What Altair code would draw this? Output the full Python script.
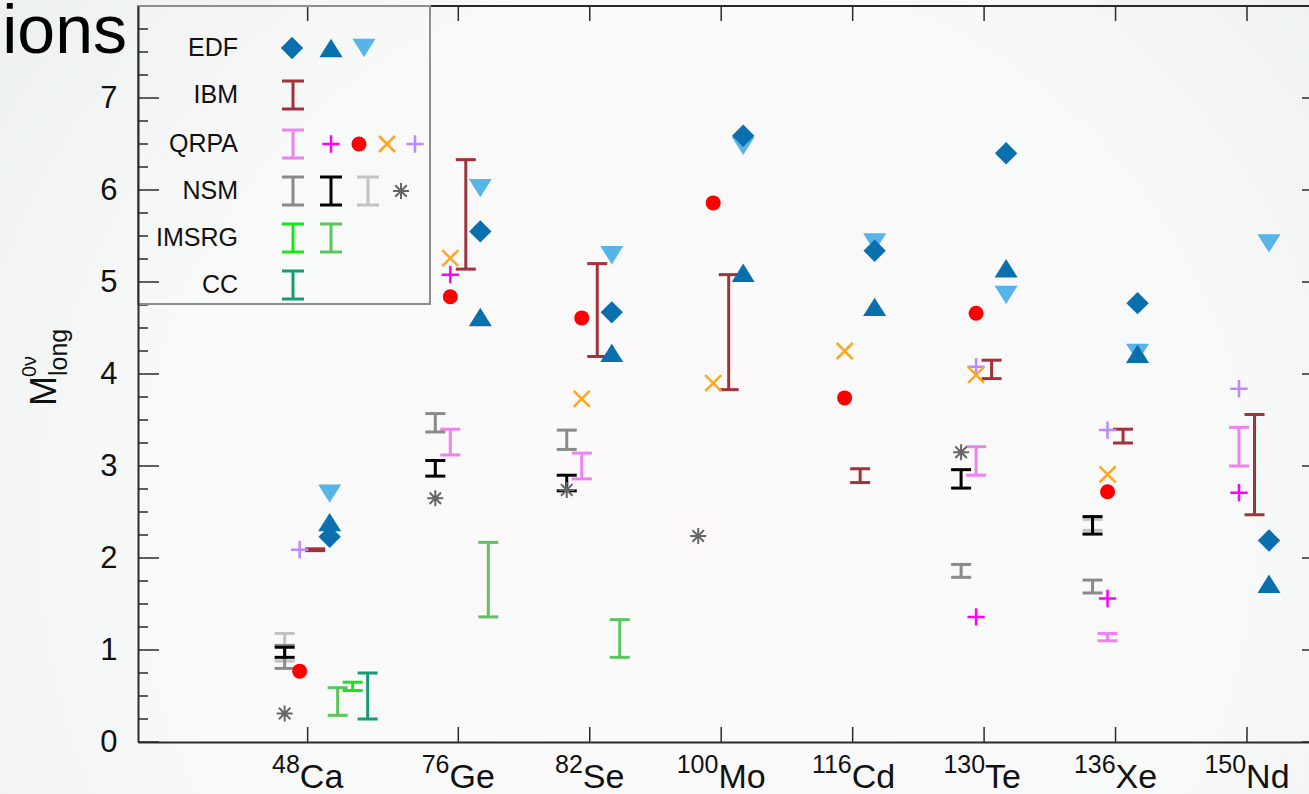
import altair as alt
import pandas as pd

# ---------------------------------------------------------------- data
MASS = ["48", "76", "82", "100", "116", "130", "136", "150"]
ELEMENT = ["Ca", "Ge", "Se", "Mo", "Cd", "Te", "Xe", "Nd"]

N = None
# EDF
EDF_DIAMOND = [2.23, 5.55, 4.67, 6.59, 5.34, 6.40, 4.77, 2.19]
EDF_TRI_UP = [2.39, 4.62, 4.23, 5.10, 4.73, 5.15, 4.22, 1.72]
EDF_TRI_DOWN = [2.70, 6.02, 5.29, 6.48, 5.43, 4.86, 4.23, 5.42]
# IBM (ranges)
IBM_LO = [2.08, 5.14, 4.19, 3.83, 2.82, 3.95, 3.25, 2.47]
IBM_HI = [2.10, 6.33, 5.20, 5.08, 2.97, 4.15, 3.40, 3.56]
# QRPA
QRPA_BAR_LO = [N, 3.12, 2.86, N, N, 2.90, 1.10, 3.00]
QRPA_BAR_HI = [N, 3.40, 3.14, N, N, 3.21, 1.18, 3.42]
QRPA_PLUS_MAGENTA = [N, 5.08, N, N, N, 1.36, 1.56, 2.71]
QRPA_DOT_RED = [0.77, 4.84, 4.61, 5.86, 3.74, 4.66, 2.72, N]
QRPA_CROSS_ORANGE = [N, 5.26, 3.73, 3.90, 4.25, 3.99, 2.91, N]
QRPA_PLUS_PURPLE = [2.09, N, N, N, N, 4.08, 3.39, 3.84]
# NSM
NSM_GRAY_LO = [0.80, 3.37, 3.18, N, N, 1.79, 1.62, N]
NSM_GRAY_HI = [1.05, 3.57, 3.39, N, N, 1.93, 1.76, N]
NSM_BLACK_LO = [0.92, 2.89, 2.73, N, N, 2.76, 2.26, N]
NSM_BLACK_HI = [1.03, 3.06, 2.90, N, N, 2.96, 2.45, N]
NSM_LIGHT_LO = [0.88, N, N, N, N, N, 2.30, N]
NSM_LIGHT_HI = [1.18, N, N, N, N, N, 2.42, N]
NSM_STAR = [0.31, 2.65, 2.74, 2.24, N, 3.15, N, N]
# IMSRG
IMSRG_A_LO = [0.56, N, N, N, N, N, N, N]
IMSRG_A_HI = [0.65, N, N, N, N, N, N, N]
IMSRG_B_LO = [0.29, 1.36, 0.92, N, N, N, N, N]
IMSRG_B_HI = [0.59, 2.17, 1.33, N, N, N, N, N]
# CC
CC_LO = [0.25, N, N, N, N, N, N, N]
CC_HI = [0.75, N, N, N, N, N, N, N]

# ---------------------------------------------------------------- layout
W, H = 1171, 736
PAD = {"left": 138, "top": 6, "right": 0, "bottom": 52}
AXIS_POS = [0.854, 2, 3, 4, 5, 6, 7, 8]      # 48Ca sits a little closer to the axis
X_DOMAIN = [-0.4367, 8.4717]
Y_DOMAIN = [0, 8]
FONT = "Liberation Sans"
INK = "#2a2a2a"

DIAMOND = "M-1,0L0,-1L1,0L0,1Z"
TRI_UP = "M-1,0.8L0,-0.8L1,0.8Z"
TRI_DOWN = "M-1,-0.8L1,-0.8L0,0.8Z"
PLUS = "M-1,0L1,0M0,-1L0,1"
CROSS = "M-1,-1L1,1M-1,1L1,-1"
STAR = "M-1,0L1,0M0,-1L0,1M-0.72,-0.72L0.72,0.72M-0.72,0.72L0.72,-0.72"

C_EDF = "#0a70ad"
C_EDF_LIGHT = "#56b4e9"
C_IBM = "#a3313a"
C_VIOLET = "#ee82ee"
C_MAGENTA = "#ff00ff"
C_RED = "#ff0000"
C_ORANGE = "#ffa621"
C_PURPLE = "#bb88ff"
C_GRAY = "#8a8a8a"
C_BLACK = "#000000"
C_LIGHTGRAY = "#c2c2c2"
C_STAR = "#666666"
C_LIME = "#19e619"
C_GREEN = "#5cc45c"
C_CC = "#169b72"

# legend rows (pixel centres inside the plot)
ROW_Y = [42, 89, 138, 185, 232, 279]
ROW_LABEL = ["EDF", "IBM", "QRPA", "NSM", "IMSRG", "CC"]

# (values, colour, shape, size, filled, stroke width, dodge px, legend row, legend x)
POINTS = [
    (EDF_TRI_DOWN, C_EDF_LIGHT, TRI_DOWN, 530, True, 0, 22, 0, 226),
    (EDF_TRI_UP, C_EDF, TRI_UP, 530, True, 0, 22, 0, 193),
    (EDF_DIAMOND, C_EDF, DIAMOND, 500, True, 0, 22, 0, 154),
    (QRPA_PLUS_PURPLE, C_PURPLE, PLUS, 300, False, 2.5, -8, 2, 277),
    (QRPA_PLUS_MAGENTA, C_MAGENTA, PLUS, 300, False, 2.5, -8, 2, 193),
    (QRPA_DOT_RED, C_RED, "circle", 225, True, 0, -8, 2, 221),
    (QRPA_CROSS_ORANGE, C_ORANGE, CROSS, 256, False, 2.5, -8, 2, 249),
    (NSM_STAR, C_STAR, STAR, 256, False, 2, -23, 3, 263),
]

# (low, high, colour, dodge px, legend row, legend x)
BARS = [
    (IBM_LO, IBM_HI, C_IBM, 7.5, 1, 155),
    (QRPA_BAR_LO, QRPA_BAR_HI, C_VIOLET, -8, 2, 155),
    (NSM_LIGHT_LO, NSM_LIGHT_HI, C_LIGHTGRAY, -23, 3, 230),
    (NSM_GRAY_LO, NSM_GRAY_HI, C_GRAY, -23, 3, 155),
    (NSM_BLACK_LO, NSM_BLACK_HI, C_BLACK, -23, 3, 193),
    (IMSRG_B_LO, IMSRG_B_HI, C_GREEN, 30, 4, 193),
    (IMSRG_A_LO, IMSRG_A_HI, C_LIME, 45, 4, 155),
    (CC_LO, CC_HI, C_CC, 60, 5, 155),
]

# ---------------------------------------------------------------- encodings
XS = alt.Scale(domain=X_DOMAIN, nice=False, zero=False)
YS = alt.Scale(domain=Y_DOMAIN, nice=False, zero=False)
X_AXIS = alt.Axis(labels=False, ticks=False, tickSize=0, grid=False, title=None,
                  domainColor=INK, domainWidth=2, zindex=1)
Y_AXIS = alt.Axis(values=list(range(8)), ticks=False, tickSize=0, grid=False, title=None,
                  labelPadding=21, labelFontSize=31, labelFont=FONT, labelColor="#111111",
                  domainColor=INK, domainWidth=2, zindex=1)


def xe(field):
    return alt.X(field, type="quantitative", scale=XS, axis=X_AXIS)


def ye(field):
    return alt.Y(field, type="quantitative", scale=YS, axis=Y_AXIS)


def one():
    return pd.DataFrame({"k": [0]})


layers = []

# soft backdrop
backdrop = alt.RadialGradient(
    gradient="radial",
    stops=[alt.GradientStop(color="#fdf9f9", offset=0),
           alt.GradientStop(color="#f8f9f9", offset=0.55),
           alt.GradientStop(color="#eaeeee", offset=1)],
    x1=0.53, y1=0.6, r1=0, x2=0.53, y2=0.6, r2=0.75)
layers.append(alt.Chart(one()).mark_rect(fill=backdrop).encode(
    x=alt.value(-PAD["left"]), x2=alt.value(W), y=alt.value(-PAD["top"]),
    y2=alt.value(H + PAD["bottom"])))

# error bars
for lo, hi, color, dx, _, _ in BARS:
    df = pd.DataFrame({"pos": AXIS_POS, "lo": lo, "hi": hi}).dropna()
    base = alt.Chart(df)
    layers.append(base.mark_rule(color=color, strokeWidth=3, xOffset=dx).encode(
        x=xe("pos"), y=ye("lo"), y2="hi"))
    for end in ("lo", "hi"):
        layers.append(base.mark_rule(color=color, strokeWidth=3,
                                     xOffset=dx - 10, x2Offset=dx + 10).encode(
            x=xe("pos"), x2="pos", y=ye(end)))

# point markers
for vals, color, shape, size, filled, sw, dx, _, _ in POINTS:
    df = pd.DataFrame({"pos": AXIS_POS, "value": vals}).dropna()
    if filled:
        mk = alt.Chart(df).mark_point(shape=shape, size=size, filled=True, fill=color,
                                      opacity=1, strokeWidth=0, xOffset=dx)
    else:
        mk = alt.Chart(df).mark_point(shape=shape, size=size, filled=False, stroke=color,
                                      opacity=1, strokeWidth=sw, xOffset=dx)
    layers.append(mk.encode(x=xe("pos"), y=ye("value")))

# inward frame ticks
major = pd.DataFrame({"value": list(range(0, 9))})
minor = pd.DataFrame({"value": [k * 0.25 for k in range(33) if k % 4]})
nuc = pd.DataFrame({"pos": AXIS_POS})
layers.append(alt.Chart(major).mark_rule(color=INK, strokeWidth=1.5).encode(
    x=alt.value(0), x2=alt.value(21), y=ye("value")))
layers.append(alt.Chart(minor).mark_rule(color=INK, strokeWidth=1.5).encode(
    x=alt.value(0), x2=alt.value(10), y=ye("value")))
layers.append(alt.Chart(major).mark_rule(color=INK, strokeWidth=1.5).encode(
    x=alt.value(W - 7), x2=alt.value(W), y=ye("value")))
layers.append(alt.Chart(nuc).mark_rule(color=INK, strokeWidth=1.5).encode(
    x=xe("pos"), y=alt.value(H - 15), y2=alt.value(H)))
layers.append(alt.Chart(nuc).mark_rule(color=INK, strokeWidth=1.5).encode(
    x=xe("pos"), y=alt.value(0), y2=alt.value(15)))
layers.append(alt.Chart(one()).mark_rule(color=INK, strokeWidth=2).encode(
    x=alt.value(0), x2=alt.value(W), y=alt.value(0)))

# nucleus labels: mass number as a raised superscript, element symbol after it
ADV = {"0": .556, "1": .556, "2": .556, "3": .556, "4": .556, "5": .556, "6": .556,
       "7": .556, "8": .556, "9": .556, "C": .722, "a": .556, "G": .778, "e": .556,
       "S": .667, "M": .833, "o": .556, "d": .556, "T": .611, "X": .667, "N": .722}
for pos, m, e in zip(AXIS_POS, MASS, ELEMENT):
    wm = sum(ADV[c] for c in m) * 25
    we = sum(ADV[c] for c in e) * 34
    split = (wm - we) / 2
    df = pd.DataFrame({"pos": [pos], "mass": [m], "elem": [e]})
    layers.append(alt.Chart(df).mark_text(align="right", baseline="alphabetic", dx=split,
                                          fontSize=25, font=FONT, color="#111111").encode(
        x=xe("pos"), y=alt.value(767), text="mass:N"))
    layers.append(alt.Chart(df).mark_text(align="left", baseline="alphabetic", dx=split,
                                          fontSize=34, font=FONT, color="#111111").encode(
        x=xe("pos"), y=alt.value(782), text="elem:N"))

# y-axis title  M^{0ν}_{long}
for txt, size, bx, by in (("M", 36, -82, 400), ("0ν", 20, -102, 371), ("long", 25, -71, 370)):
    layers.append(alt.Chart(one()).mark_text(angle=270, align="left", baseline="alphabetic",
                                             fontSize=size, font=FONT, color="#111111").encode(
        x=alt.value(bx), y=alt.value(by), text=alt.value(txt)))

# tail of the slide heading
layers.append(alt.Chart(one()).mark_text(align="right", baseline="alphabetic", fontSize=68,
                                         font=FONT, color="#000000").encode(
    x=alt.value(-11), y=alt.value(47), text=alt.value("ions")))

# legend box
layers.append(alt.Chart(one()).mark_rect(fillOpacity=0, stroke="#8e8e8e", strokeWidth=2).encode(
    x=alt.value(0), x2=alt.value(292), y=alt.value(0), y2=alt.value(298)))
for label, ry in zip(ROW_LABEL, ROW_Y):
    layers.append(alt.Chart(one()).mark_text(align="right", baseline="middle", fontSize=25,
                                             font=FONT, color="#111111").encode(
        x=alt.value(100), y=alt.value(ry), text=alt.value(label)))
for _, _, color, _, row, lx in BARS:
    ry = ROW_Y[row]
    layers.append(alt.Chart(one()).mark_rule(color=color, strokeWidth=3).encode(
        x=alt.value(lx), y=alt.value(ry - 14), y2=alt.value(ry + 14)))
    for cy in (ry - 14, ry + 14):
        layers.append(alt.Chart(one()).mark_rule(color=color, strokeWidth=3).encode(
            x=alt.value(lx - 11), x2=alt.value(lx + 11), y=alt.value(cy)))
for _, color, shape, size, filled, sw, _, row, lx in POINTS:
    if filled:
        mk = alt.Chart(one()).mark_point(shape=shape, size=size, filled=True, fill=color,
                                         opacity=1, strokeWidth=0)
    else:
        mk = alt.Chart(one()).mark_point(shape=shape, size=size, filled=False, stroke=color,
                                         opacity=1, strokeWidth=sw)
    layers.append(mk.encode(x=alt.value(lx), y=alt.value(ROW_Y[row])))

chart = alt.layer(*layers).properties(
    width=W, height=H, padding=PAD,
    autosize=alt.AutoSizeParams(type="none"),
    background="#eef1f1",
).configure_view(stroke="transparent")

chart.save("out.html", embed_options={"renderer": "svg", "actions": False})
